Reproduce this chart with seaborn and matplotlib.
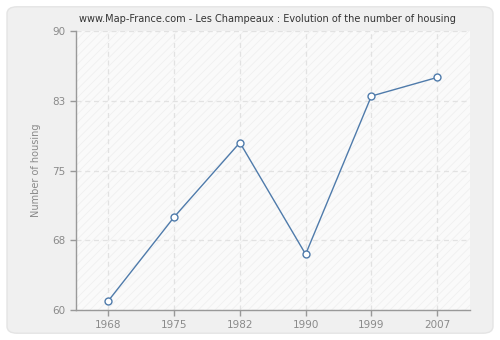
import matplotlib
matplotlib.use("Agg")
import matplotlib.pyplot as plt
import seaborn as sns
import pandas as pd
from matplotlib.patches import FancyBboxPatch, Rectangle

years = ["1968", "1975", "1982", "1990", "1999", "2007"]
housing = [61, 70, 78, 66, 83, 85]
ytick_vals = [60, 67.5, 75, 82.5, 90]
ytick_labels = ["60", "68", "75", "83", "90"]
title = "www.Map-France.com - Les Champeaux : Evolution of the number of housing"

sns.set_theme(style="white")
plt.rcParams['font.family'] = ['DejaVu Sans']
plt.rcParams['hatch.linewidth'] = 0.6

df = pd.DataFrame({"pos": range(len(years)), "value": housing})

fig = plt.figure(figsize=(5.0, 3.4), dpi=100)
fig.patch.set_facecolor("white")
bg = FancyBboxPatch((0.014, 0.02), 0.972, 0.96, boxstyle="round,pad=0,rounding_size=0.02",
                    transform=fig.transFigure, facecolor="#f0f0f0", edgecolor="#e4e4e4",
                    linewidth=1.0, zorder=-5)
fig.patches.append(bg)

ax = fig.add_axes([0.151, 0.088, 0.789, 0.821])
ax.set_zorder(2)
ax.set_facecolor("#fafafa")
ax.add_patch(Rectangle((0, 0), 1, 1, transform=ax.transAxes, facecolor="none",
                       edgecolor="#f0f0f0", hatch="////", linewidth=0, zorder=0))

sns.lineplot(data=df, x="pos", y="value", ax=ax, color="#4f7bab", linewidth=1.0,
             marker="o", markersize=5, markerfacecolor="white",
             markeredgecolor="#4f7bab", markeredgewidth=1.0, zorder=3)

ax.set_xlim(-0.5, 5.5)
ax.set_ylim(60, 90)
ax.set_xticks(range(len(years)))
ax.set_xticklabels(years)
ax.set_yticks(ytick_vals)
ax.set_yticklabels(ytick_labels)
ax.grid(True, color="#e2e2e2", linestyle=(0, (4, 3)), linewidth=0.9)
ax.set_axisbelow(True)

for s in ["top", "right"]:
    ax.spines[s].set_visible(False)
for s in ["left", "bottom"]:
    ax.spines[s].set_color("#999999")
    ax.spines[s].set_linewidth(1.0)

ax.tick_params(axis="both", colors="#999999", labelcolor="#8a8a8a", labelsize=7.5,
               length=4, width=1, direction="out", left=True, bottom=True)
ax.set_xlabel("")
ax.set_ylabel("Number of housing", color="#8a8a8a", fontsize=7, labelpad=8)
fig.text(0.535, 0.945, title, ha="center", va="center", fontsize=7, color="#333333")

fig.savefig("out.png", dpi=100)
